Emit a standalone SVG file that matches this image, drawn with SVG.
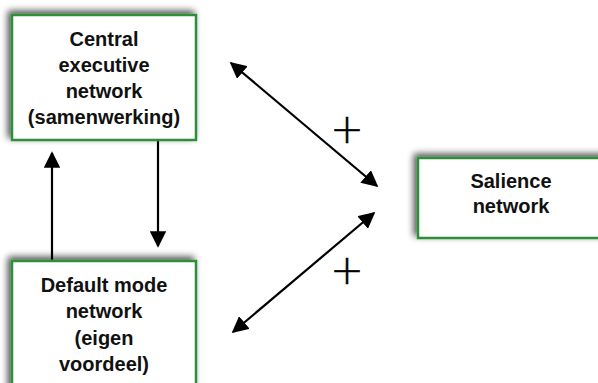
<svg xmlns="http://www.w3.org/2000/svg" width="598" height="383" viewBox="0 0 598 383">
<style>
.box{fill:#fff;stroke:#2f8f3a;stroke-width:2.5}
.t{font-family:"Liberation Sans",Arial,sans-serif;font-weight:bold;font-size:20px;fill:#111;text-anchor:middle}
.c{stroke:#000;stroke-width:2.2;fill:none}
.p{font-family:"DejaVu Sans",sans-serif;font-weight:200;font-size:40px;fill:#000;stroke:#000;stroke-width:0.5;text-anchor:middle}
</style>
<defs>
<filter id="sh" x="-20%" y="-20%" width="140%" height="140%">
<feGaussianBlur in="SourceAlpha" stdDeviation="3.5"/>
<feOffset dx="-3" dy="-3" result="b"/>
<feComponentTransfer><feFuncA type="linear" slope="0.7"/></feComponentTransfer>
<feMerge><feMergeNode/><feMergeNode in="SourceGraphic"/></feMerge>
</filter>
<marker id="ah" viewBox="0 0 10 10" refX="9" refY="5" markerWidth="7.5" markerHeight="7.5" markerUnits="strokeWidth" orient="auto-start-reverse">
<path d="M0,0 L10,5 L0,10 z" fill="#000"/>
</marker>
</defs>
<g id="connectors">
<line class="c" x1="52" y1="261" x2="52" y2="153" marker-end="url(#ah)"/>
<line class="c" x1="158" y1="140" x2="158" y2="246" marker-end="url(#ah)"/>
<line class="c" x1="231" y1="63" x2="377" y2="186" marker-start="url(#ah)" marker-end="url(#ah)"/>
<line class="c" x1="233" y1="332" x2="374" y2="213" marker-start="url(#ah)" marker-end="url(#ah)"/>
<text class="p" x="347" y="143">+</text>
<text class="p" x="347" y="284">+</text>
</g>
<g id="central">
<rect class="box" x="12" y="15" width="184" height="125" filter="url(#sh)"/>
<text class="t" x="104" y="46">Central</text>
<text class="t" x="104" y="72">executive</text>
<text class="t" x="104" y="98">network</text>
<text class="t" x="104" y="124">(samenwerking)</text>
</g>
<g id="default">
<rect class="box" x="12" y="261" width="184" height="140" filter="url(#sh)"/>
<text class="t" x="104" y="292">Default mode</text>
<text class="t" x="104" y="318">network</text>
<text class="t" x="104" y="345">(eigen</text>
<text class="t" x="104" y="371">voordeel)</text>
</g>
<g id="salience">
<rect class="box" x="418" y="158" width="190" height="80" filter="url(#sh)"/>
<text class="t" x="511" y="188">Salience</text>
<text class="t" x="511" y="213">network</text>
</g>
</svg>
